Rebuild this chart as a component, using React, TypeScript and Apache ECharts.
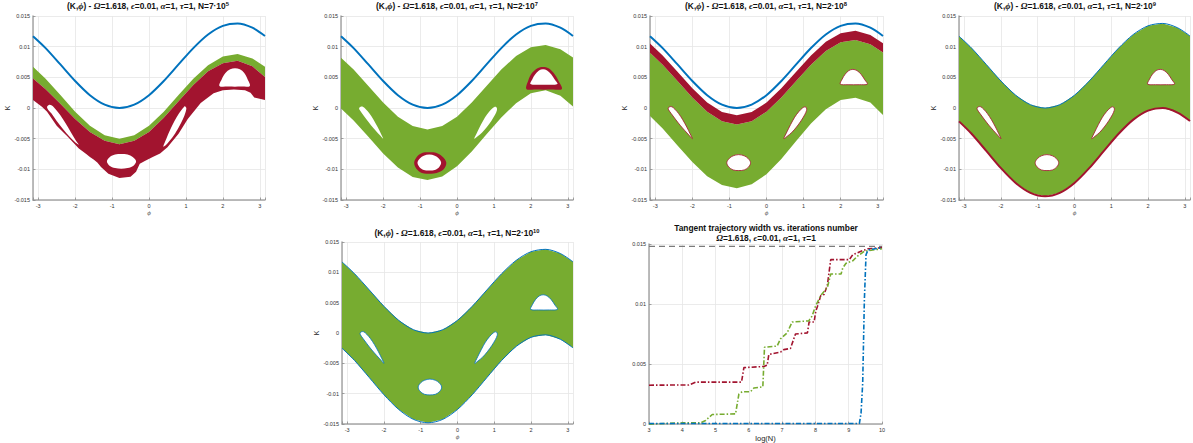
import React, { useEffect, useRef } from 'react';
import * as echarts from 'echarts';

// ---------- shared phase grid ----------
const PHI = [-3.1416, -2.8, -2.4, -2.0, -1.6, -1.2, -0.8, -0.4, 0, 0.4, 0.8, 1.2, 1.6, 2.0, 2.4, 2.8, 3.1416];
// tangent (blue) curve K(phi)
const TANGENT_K = [0.01171, 0.00977, 0.0071, 0.0044, 0.00209, 0.00055, 0, 0.00055, 0.00209, 0.0044, 0.0071, 0.00977, 0.01199, 0.0134, 0.01379, 0.01309, 0.01174];

// ---------- panel 1 : N = 7e5 ----------
const P1_GREEN_TOP = [0.00671, 0.00477, 0.0021, -0.0006, -0.00291, -0.00445, -0.005, -0.00445, -0.00291, -0.0006, 0.0021, 0.00477, 0.00699, 0.0084, 0.00879, 0.00809, 0.00674];
const P1_GREEN_BOT = [0.00481, 0.00307, 0.0007, -0.0018, -0.00391, -0.00535, -0.0059, -0.00535, -0.00391, -0.0016, 0.0011, 0.00377, 0.00599, 0.0073, 0.00769, 0.00679, 0.00504];
const P1_RED_LOW_PHI = [-3.1416, -2.9, -2.76, -2.5, -2.2, -1.9, -1.7, -1.6, -1.5, -1.4, -1.3, -1.1, -0.8, -0.5, -0.35, -0.25, -0.1, 0.1, 0.3, 0.5, 0.8, 1.05, 1.4, 1.75, 2.0, 2.3, 2.6, 2.75, 2.85, 3.1416];
const P1_RED_LOW = [0.0013, 0.0002, -0.0006, -0.0029, -0.0047, -0.0066, -0.0075, -0.008, -0.0084, -0.0089, -0.0096, -0.0107, -0.0114, -0.0112, -0.0104, -0.0091, -0.0086, -0.008, -0.0074, -0.0064, -0.0042, -0.0018, 0.0008, 0.0024, 0.0029, 0.003, 0.0029, 0.0025, 0.0017, 0.0013];
const P1_HOLE_L = [[-2.76, 0.0002], [-2.71, 0.0005], [-2.63, 0.0004], [-2.53, -0.0002], [-2.4, -0.0012], [-2.26, -0.0025], [-2.12, -0.0039], [-1.99, -0.0052], [-1.9, -0.006], [-2.0, -0.0056], [-2.15, -0.0047], [-2.32, -0.0035], [-2.5, -0.0021], [-2.64, -0.0009], [-2.74, -0.0002]];
const P1_HOLE_R = [[0.39, -0.0063], [0.47, -0.005], [0.57, -0.0036], [0.69, -0.0021], [0.81, -0.0009], [0.91, -0.0001], [0.97, 0.0003], [1.01, 0.0], [0.99, -0.0007], [0.92, -0.0018], [0.81, -0.0031], [0.67, -0.0045], [0.51, -0.0057]];
const P1_HOLE_B = [[-1.14, -0.0087], [-1.06, -0.008], [-0.92, -0.0076], [-0.75, -0.0075], [-0.58, -0.0076], [-0.44, -0.008], [-0.35, -0.0087], [-0.42, -0.0094], [-0.58, -0.0098], [-0.75, -0.0099], [-0.92, -0.0098], [-1.07, -0.0094]];
const P1_HOLE_T = [[1.91, 0.0036], [1.97, 0.0047], [2.07, 0.0057], [2.2, 0.0063], [2.33, 0.0065], [2.46, 0.0063], [2.58, 0.0057], [2.67, 0.0047], [2.73, 0.0036], [2.5, 0.0035], [2.15, 0.0035]];

// ---------- standard islands (panels 2-5) ----------
const ISL_L = [[-2.65, 0.0], [-2.61, 0.0002], [-2.55, 0.0002], [-2.47, -0.0002], [-2.37, -0.0009], [-2.26, -0.0019], [-2.15, -0.0031], [-2.06, -0.0042], [-2.0, -0.005], [-2.08, -0.0045], [-2.2, -0.0037], [-2.33, -0.0028], [-2.46, -0.0018], [-2.57, -0.0009], [-2.64, -0.0003]];
const ISL_R = [[0.47, -0.005], [0.55, -0.0039], [0.65, -0.0027], [0.76, -0.0015], [0.87, -0.0006], [0.97, 0.0], [1.04, 0.0002], [1.08, 0.0], [1.08, -0.0004], [1.03, -0.0011], [0.93, -0.0021], [0.81, -0.0031], [0.68, -0.004], [0.56, -0.0046]];
const ISL_B = [[-1.07, -0.0089], [-1.0, -0.0082], [-0.9, -0.0078], [-0.75, -0.0076], [-0.6, -0.0078], [-0.5, -0.0082], [-0.43, -0.0089], [-0.48, -0.0096], [-0.6, -0.0101], [-0.75, -0.0102], [-0.9, -0.0101], [-1.02, -0.0096]];
const ISL_T = [[1.99, 0.0039], [2.04, 0.0047], [2.12, 0.0055], [2.22, 0.0061], [2.33, 0.0063], [2.44, 0.0061], [2.55, 0.0055], [2.65, 0.0046], [2.72, 0.0039], [2.5, 0.0038], [2.2, 0.0038]];

// ---------- panel 2 : N = 2e7 ----------
const P2_GREEN_TOP = [0.00821, 0.00627, 0.0036, 0.0009, -0.00141, -0.00295, -0.0035, -0.00295, -0.00141, 0.0009, 0.0036, 0.00627, 0.00849, 0.0099, 0.01029, 0.00959, 0.00824];
const P2_GREEN_BOT = [-0.0001, -0.00203, -0.0047, -0.0074, -0.00971, -0.01125, -0.01175, -0.01115, -0.00951, -0.0071, -0.0043, -0.00153, 0.00079, 0.0024, 0.00289, 0.00199, 0.00024];
const P2_RING_B = [[-1.16, -0.0089], [-1.08, -0.0079], [-0.93, -0.0073], [-0.75, -0.0072], [-0.57, -0.0073], [-0.4, -0.0079], [-0.29, -0.0089], [-0.36, -0.01], [-0.55, -0.0106], [-0.75, -0.0107], [-0.95, -0.0106], [-1.1, -0.0099]];
const P2_RING_T = [[1.88, 0.0031], [1.93, 0.0045], [2.03, 0.0057], [2.18, 0.0065], [2.33, 0.0067], [2.48, 0.0065], [2.62, 0.0057], [2.75, 0.0044], [2.84, 0.0031], [2.6, 0.003], [2.1, 0.003]];

// ---------- panel 3 : N = 2e8 ----------
const P3_RED_TOP = [0.01051, 0.00857, 0.0059, 0.0032, 0.00089, -0.00065, -0.0012, -0.00065, 0.00089, 0.0032, 0.0059, 0.00857, 0.01079, 0.0122, 0.01259, 0.01189, 0.01054];
const P3_RED_BOT = [0.00901, 0.00707, 0.0044, 0.0017, -0.00061, -0.00215, -0.0027, -0.00215, -0.00061, 0.0017, 0.0044, 0.00707, 0.00929, 0.0107, 0.01109, 0.01039, 0.00904];
const P3_GREEN_BOT = [-0.00129, -0.00333, -0.0061, -0.0088, -0.01111, -0.01255, -0.0131, -0.01245, -0.01081, -0.0083, -0.0054, -0.00253, -0.00021, 0.0013, 0.00169, 0.00089, -0.00116];

// ---------- panel 4 : N = 2e9 ----------
const P4_GREEN_BOT = [-0.00218, -0.0042, -0.00699, -0.00981, -0.01222, -0.01383, -0.0144, -0.01383, -0.01222, -0.00981, -0.00699, -0.0042, -0.00189, -0.00042, -0.00001, -0.00074, -0.00213];

// ---------- panel 5 : N = 2e10 ----------
const P5_GREEN_BOT = [-0.0025, -0.00453, -0.00734, -0.01018, -0.0126, -0.01423, -0.0148, -0.01423, -0.0126, -0.01018, -0.00734, -0.00453, -0.0022, -0.00072, -0.00031, -0.00105, -0.00245];

// ---------- panel 6 : width vs log(N) ----------
const W_RED_X = [3, 4.2, 4.4, 5.78, 5.85, 6.45, 6.55, 6.6, 6.95, 7.05, 7.25, 7.4, 7.76, 7.81, 7.96, 8.01, 8.06, 8.16, 8.26, 8.36, 8.46, 9.02, 9.12, 9.37, 9.58, 10];
const W_RED = [0.00324, 0.00326, 0.0035, 0.0035, 0.0047, 0.0048, 0.0049, 0.0058, 0.006, 0.0062, 0.0063, 0.0075, 0.0076, 0.0085, 0.0085, 0.0094, 0.0098, 0.0107, 0.0108, 0.0116, 0.0137, 0.0137, 0.0141, 0.0144, 0.0146, 0.0147];
const W_GREEN_X = [3, 3.5, 4.0, 4.55, 4.7, 4.9, 5.6, 5.7, 5.8, 6.05, 6.15, 6.42, 6.47, 6.85, 6.95, 7.15, 7.3, 7.8, 7.9, 8.0, 8.16, 8.36, 8.46, 8.77, 8.82, 8.92, 9.12, 9.27, 9.47, 10];
const W_GREEN = [0, 0.00005, 0.0001, 0.0001, 0.0003, 0.0008, 0.00085, 0.0025, 0.0027, 0.0027, 0.003, 0.0031, 0.0064, 0.0065, 0.0071, 0.0076, 0.0085, 0.0086, 0.009, 0.0098, 0.0107, 0.0114, 0.0125, 0.0125, 0.013, 0.0134, 0.0136, 0.014, 0.0144, 0.0146];
const W_BLUE_X = [3, 9.32, 9.37, 9.42, 9.47, 9.52, 9.58, 10];
const W_BLUE = [0.00005, 0.00005, 0.0009, 0.0034, 0.0103, 0.0141, 0.0145, 0.0147];
const W_MAX_X = [3, 10];
const W_MAX = [0.0148, 0.0148];

// ---------- titles ----------
const TITLE_N = [['7', '5'], ['2', '7'], ['2', '8'], ['2', '9'], ['2', '10']];

const BLUE = '#0072BD';
const RED = '#A2142F';
const GREEN = '#77AC30';

const GRIDS = [
  { left: 33, top: 16, width: 232, height: 184 },
  { left: 341, top: 16, width: 232, height: 184 },
  { left: 650, top: 16, width: 233, height: 184 },
  { left: 959, top: 16, width: 232, height: 184 },
  { left: 342, top: 242, width: 231, height: 182 },
  { left: 649, top: 244, width: 233, height: 182 },
];
const TITLE_POS = [
  [148, 1], [457, 1], [766, 1], [1075, 1], [457, 228], [766, 223],
];

const pairs = (xs: number[], ys: number[]) => xs.map((x, i) => [x, ys[i]]);
const band = (xs: number[], top: number[], bot: number[]) => pairs(xs, top).concat(pairs(xs, bot).reverse());

const RICH: any = {
  b: { fontFamily: 'Liberation Sans', fontWeight: 'bold', fontSize: 8.4, color: '#111', lineHeight: 10 },
  g: { fontFamily: 'Liberation Serif', fontStyle: 'italic', fontSize: 9, color: '#111', lineHeight: 10 },
  s: { fontFamily: 'Liberation Sans', fontWeight: 'bold', fontSize: 5.8, color: '#111', verticalAlign: 'top', lineHeight: 6 },
};

function phaseTitle(coef: string, exp: string) {
  return `{b|(K,}{g|ϕ}{b|) - }{g|Ω}{b|=1.618, }{g|ϵ}{b|=0.01, }{g|α}{b|=1, }{g|τ}{b|=1, N=${coef}·10}{s|${exp}}`;
}

function buildOption() {
  const series: any[] = [];
  const addPoly = (gi: number, pts: number[][], fill: string, z: number, stroke = 'none', lw = 0, smooth = 0) => {
    series.push({
      type: 'custom', xAxisIndex: gi, yAxisIndex: gi, clip: true, silent: true, z,
      data: [[0, 0]],
      renderItem: (_p: any, api: any) => ({
        type: 'polygon',
        shape: { points: pts.map((p) => api.coord(p)), smooth },
        style: { fill, stroke, lineWidth: lw },
      }),
    });
  };
  const addLine = (gi: number, xs: number[], ys: number[], color: string, width: number, z: number, type: any = 'solid', smooth: any = 0.3) => {
    series.push({
      type: 'line', xAxisIndex: gi, yAxisIndex: gi, silent: true, z, smooth,
      symbol: 'none', showSymbol: false, data: pairs(xs, ys),
      lineStyle: { color, width, type },
    });
  };
  const islands = (gi: number, list: number[][][], stroke: string, lw: number) => {
    list.forEach((pts) => addPoly(gi, pts, '#fff', 4, stroke, lw, 0.35));
  };

  // panel 1
  addPoly(0, band(PHI, P1_GREEN_TOP, P1_GREEN_BOT), GREEN, 2);
  addPoly(0, pairs(PHI, P1_GREEN_BOT).concat(pairs(P1_RED_LOW_PHI, P1_RED_LOW).reverse()), RED, 3);
  islands(0, [P1_HOLE_L, P1_HOLE_R, P1_HOLE_B, P1_HOLE_T], 'none', 0);
  addLine(0, PHI, TANGENT_K, BLUE, 2, 6);

  // panel 2
  addPoly(1, band(PHI, P2_GREEN_TOP, P2_GREEN_BOT), GREEN, 2);
  addPoly(1, P2_RING_B, RED, 3, 'none', 0, 0.35);
  addPoly(1, P2_RING_T, RED, 3, 'none', 0, 0.35);
  islands(1, [ISL_L, ISL_R, ISL_B, ISL_T], 'none', 0);
  addLine(1, PHI, TANGENT_K, BLUE, 2, 6);

  // panel 3
  addPoly(2, band(PHI, P3_RED_BOT, P3_GREEN_BOT), GREEN, 2);
  addPoly(2, band(PHI, P3_RED_TOP, P3_RED_BOT), RED, 3);
  islands(2, [ISL_L, ISL_R, ISL_B, ISL_T], RED, 0.8);
  addLine(2, PHI, TANGENT_K, BLUE, 2, 6);

  // panel 4
  addPoly(3, band(PHI, TANGENT_K, P4_GREEN_BOT), GREEN, 2);
  islands(3, [ISL_L, ISL_R, ISL_B, ISL_T], RED, 0.8);
  addLine(3, PHI, TANGENT_K, BLUE, 1, 6);
  addLine(3, PHI, P4_GREEN_BOT, RED, 2, 6);

  // panel 5
  addPoly(4, band(PHI, TANGENT_K, P5_GREEN_BOT), GREEN, 2);
  islands(4, [ISL_L, ISL_R, ISL_B, ISL_T], BLUE, 0.8);
  addLine(4, PHI, TANGENT_K, BLUE, 1, 6);
  addLine(4, PHI, P5_GREEN_BOT, BLUE, 1, 6);

  // panel 6
  const dashDot = [5, 2, 1.5, 2];
  addLine(5, W_MAX_X, W_MAX, '#7a7a7a', 1.3, 3, [6, 4], false);
  addLine(5, W_RED_X, W_RED, RED, 1.6, 4, dashDot, false);
  addLine(5, W_GREEN_X, W_GREEN, GREEN, 1.6, 5, dashDot, false);
  addLine(5, W_BLUE_X, W_BLUE, BLUE, 1.6, 6, dashDot, false);

  const axisLine = { show: true, onZero: false, lineStyle: { color: '#a6a6a6', width: 1.5 } };
  const axisTick = { show: true, inside: true, length: 2.5, lineStyle: { color: '#8c8c8c', width: 0.8 } };
  const splitLine = { show: true, lineStyle: { color: '#e6e6e6', width: 0.8 } };
  const label = { fontSize: 5.5, color: '#333', fontFamily: 'Liberation Sans', margin: 3 };
  const intOnly = (v: number) => (Math.abs(v - Math.round(v)) < 1e-6 ? String(Math.round(v)) : '');

  const xAxis: any[] = [];
  const yAxis: any[] = [];
  for (let gi = 0; gi < 5; gi++) {
    xAxis.push({
      type: 'value', gridIndex: gi, min: -3.1416, max: 3.1416, splitNumber: 6,
      name: 'ϕ', nameLocation: 'middle', nameGap: 7,
      nameTextStyle: { fontFamily: 'Liberation Serif', fontStyle: 'italic', fontSize: 7, color: '#555', verticalAlign: 'top' },
      axisLine, axisTick, splitLine,
      axisLabel: { ...label, formatter: intOnly },
    });
    yAxis.push({
      type: 'value', gridIndex: gi, min: -0.015, max: 0.015, interval: 0.005,
      name: 'K', nameLocation: 'middle', nameGap: 17,
      nameTextStyle: { fontFamily: 'Liberation Sans', fontSize: 7, color: '#222' },
      axisLine, axisTick, splitLine, axisLabel: label,
    });
  }
  xAxis.push({
    type: 'value', gridIndex: 5, min: 3, max: 10, interval: 1,
    name: 'log(N)', nameLocation: 'middle', nameGap: 7,
    nameTextStyle: { fontFamily: 'Liberation Sans', fontSize: 7.5, color: '#222', verticalAlign: 'top' },
    axisLine, axisTick, splitLine, axisLabel: label,
  });
  yAxis.push({
    type: 'value', gridIndex: 5, min: 0, max: 0.015, interval: 0.005,
    axisLine, axisTick, splitLine, axisLabel: label,
  });

  const titles: any[] = TITLE_N.map(([c, e], i) => ({
    text: phaseTitle(c, e), left: TITLE_POS[i][0], top: TITLE_POS[i][1],
    textAlign: 'center', padding: 0, textStyle: { rich: RICH },
  }));
  titles.push({
    text: '{b|Tangent trajectory width vs. iterations number}\n{g|Ω}{b|=1.618, }{g|ϵ}{b|=0.01, }{g|α}{b|=1, }{g|τ}{b|=1}',
    left: TITLE_POS[5][0], top: TITLE_POS[5][1], textAlign: 'center', padding: 0,
    textStyle: { rich: RICH },
  });

  return {
    animation: false,
    backgroundColor: '#fff',
    title: titles,
    grid: GRIDS.map((g) => ({ ...g, containLabel: false })),
    xAxis,
    yAxis,
    series,
  };
}

export default function App() {
  const ref = useRef<HTMLDivElement>(null);
  useEffect(() => {
    const chart = echarts.init(ref.current as HTMLDivElement, null, { renderer: 'svg' });
    chart.setOption(buildOption() as any);
    return () => chart.dispose();
  }, []);
  return (
    <div
      ref={ref}
      style={{ position: 'fixed', left: 0, top: 0, width: 1193, height: 443, background: '#fff' }}
    />
  );
}
